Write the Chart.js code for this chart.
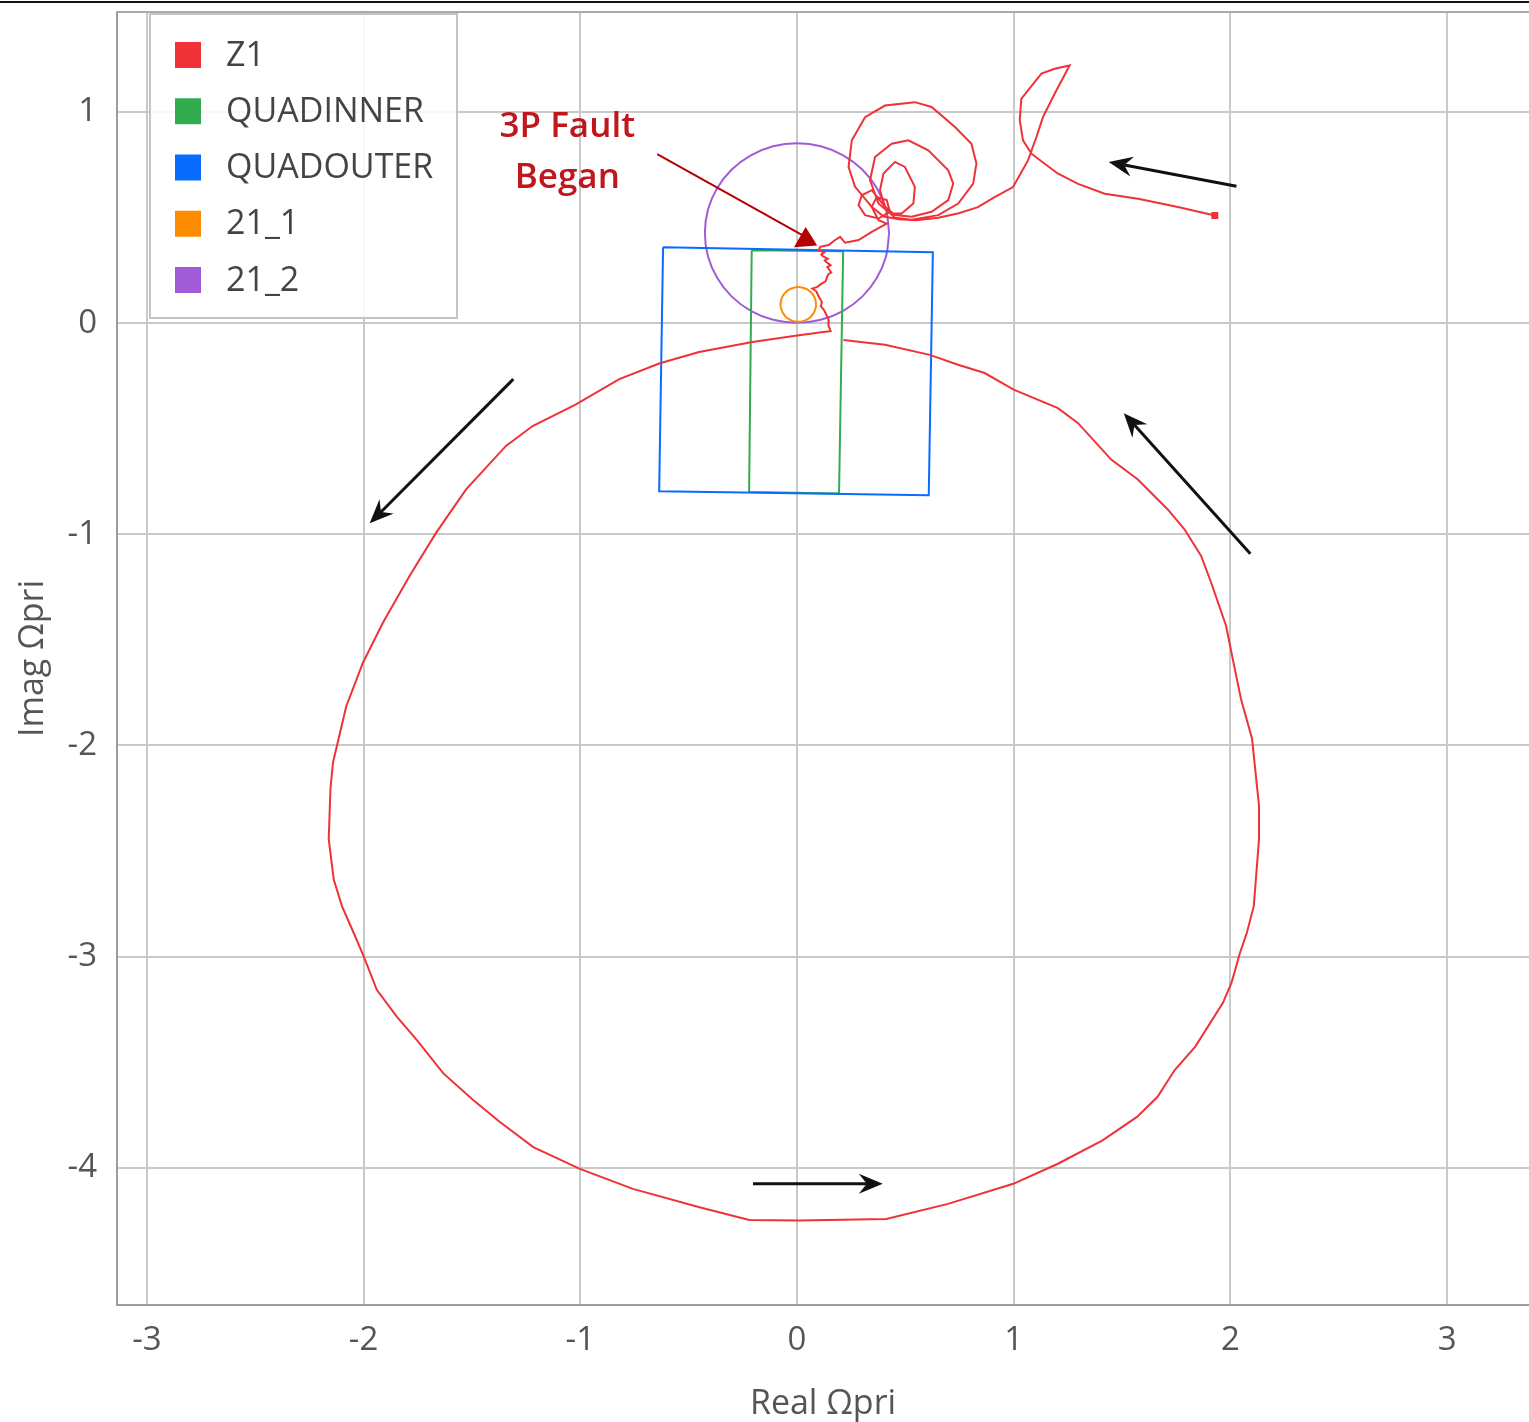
<!DOCTYPE html>
<html>
<head>
<meta charset="utf-8">
<script src="https://cdn.jsdelivr.net/npm/chart.js@4.4.1/dist/chart.umd.min.js"></script>
<style>
  html, body { margin: 0; padding: 0; background: #fff; }
  #wrap { width: 1529px; height: 1422px; }
</style>
</head>
<body>
<div id="wrap"><canvas id="impedance" width="1529" height="1422"></canvas></div>
<script>
'use strict';

// axis ticks and visible range (Real / Imag, ohm primary)
const xTicks = [-3, -2, -1, 0, 1, 2, 3];
const yTicks = [-4, -3, -2, -1, 0, 1];
const xRange = [-3.138, 3.378];
const yRange = [-4.65, 1.474];

const seriesNames = ['Z1', 'QUADINNER', 'QUADOUTER', '21_1', '21_2'];
const seriesColors = ['#ef3237', '#31ad4f', '#0a6cff', '#ff8c00', '#a05cd6'];

// Z1 trajectory [real, imag], in time order
const z1 = [
  [1.928,0.510],[1.758,0.550],[1.574,0.589],[1.420,0.613],[1.297,0.660],[1.205,0.708],[1.143,0.755],
  [1.082,0.803],[1.043,0.866],[1.028,0.961],[1.035,1.063],[1.066,1.103],[1.128,1.182],[1.189,1.205],
  [1.258,1.221],[1.189,1.087],[1.135,0.976],[1.105,0.882],[1.066,0.771],[0.997,0.645],[0.912,0.597],
  [0.835,0.550],[0.747,0.521],[0.652,0.500],[0.550,0.488],[0.470,0.492],
  [0.400,0.505],[0.345,0.551],[0.268,0.646],[0.238,0.740],[0.253,0.866],[0.314,0.976],[0.406,1.031],
  [0.544,1.047],[0.621,1.024],[0.729,0.929],[0.805,0.850],[0.828,0.756],[0.813,0.661],[0.744,0.567],
  [0.652,0.512],[0.529,0.490],[0.452,0.500],
  [0.376,0.567],[0.337,0.677],[0.360,0.787],[0.437,0.850],[0.514,0.866],[0.606,0.819],[0.698,0.724],
  [0.721,0.661],[0.698,0.583],[0.621,0.528],[0.529,0.504],[0.452,0.512],
  [0.406,0.551],[0.383,0.630],[0.399,0.709],[0.452,0.764],[0.498,0.740],[0.544,0.646],[0.537,0.567],
  [0.483,0.520],[0.437,0.520],
  [0.400,0.560],[0.345,0.630],[0.299,0.606],[0.284,0.559],[0.314,0.512],[0.376,0.496],[0.429,0.528],
  [0.414,0.583],[0.368,0.598],[0.345,0.551],[0.376,0.488],[0.414,0.472],
  [0.345,0.433],[0.284,0.394],[0.222,0.381],[0.199,0.409],[0.176,0.394],[0.146,0.370],[0.107,0.362],
  [0.101,0.346],[0.125,0.335],[0.112,0.325],[0.118,0.318],[0.142,0.305],[0.128,0.298],[0.135,0.290],
  [0.155,0.275],[0.140,0.266],[0.146,0.258],[0.158,0.240],[0.145,0.232],[0.140,0.222],[0.132,0.198],
  [0.110,0.185],[0.094,0.172],[0.071,0.164],[0.090,0.150],[0.101,0.125],[0.115,0.100],[0.110,0.080],
  [0.125,0.062],[0.135,0.040],[0.147,0.014],[0.145,-0.010],[0.155,-0.038],[0.120,-0.042],
  [0.071,-0.049],[0.009,-0.057],
  [-0.206,-0.089],[-0.452,-0.136],[-0.636,-0.191],[-0.820,-0.265],[-1.020,-0.384],[-1.220,-0.487],
  [-1.343,-0.581],[-1.527,-0.787],[-1.665,-0.992],[-1.788,-1.197],[-1.911,-1.419],[-2.003,-1.608],
  [-2.080,-1.814],[-2.141,-2.079],[-2.153,-2.206],[-2.161,-2.444],[-2.138,-2.634],[-2.100,-2.761],
  [-2.046,-2.887],[-2.000,-2.998],[-1.939,-3.157],[-1.847,-3.284],[-1.754,-3.395],[-1.632,-3.553],
  [-1.493,-3.680],[-1.371,-3.783],[-1.217,-3.902],[-1.002,-4.005],[-0.757,-4.100],[-0.450,-4.187],
  [-0.220,-4.247],[0.011,-4.250],[0.412,-4.243],[0.697,-4.171],[0.998,-4.076],[1.204,-3.981],
  [1.410,-3.870],[1.569,-3.759],[1.664,-3.664],[1.743,-3.537],[1.838,-3.426],[1.965,-3.220],
  [2.005,-3.125],[2.044,-2.983],[2.076,-2.887],[2.108,-2.761],[2.120,-2.602],[2.132,-2.444],
  [2.132,-2.285],[2.116,-2.127],[2.100,-1.968],[2.049,-1.780],[2.011,-1.591],[1.980,-1.433],
  [1.911,-1.228],[1.865,-1.102],[1.788,-0.976],[1.711,-0.882],[1.573,-0.740],[1.450,-0.646],
  [1.296,-0.472],[1.204,-0.402],[1.000,-0.315],[0.866,-0.236],[0.743,-0.197],[0.613,-0.150],
  [0.406,-0.102],[0.214,-0.079]
];

// zone outlines
const quadInner = [[-0.209,0.346],[0.213,0.341],[0.194,-0.807],[-0.221,-0.800],[-0.209,0.346]];
const quadOuter = [[-0.618,0.360],[0.627,0.336],[0.608,-0.815],[-0.636,-0.796],[-0.618,0.360]];
const zone21_1 = [
  [0.088,0.089],[0.085,0.110],[0.077,0.130],[0.064,0.147],[0.047,0.160],[0.027,0.168],[0.006,0.171],
  [-0.015,0.168],[-0.035,0.160],[-0.052,0.147],[-0.065,0.130],[-0.073,0.110],[-0.076,0.089],
  [-0.073,0.068],[-0.065,0.048],[-0.052,0.031],[-0.035,0.018],[-0.015,0.010],[0.006,0.007],
  [0.027,0.010],[0.047,0.018],[0.064,0.031],[0.077,0.048],[0.085,0.068],[0.088,0.089]
];
const zone21_2 = [
  [0.425,0.427],[0.411,0.537],[0.368,0.640],[0.301,0.728],[0.213,0.795],[0.110,0.838],[0.000,0.852],
  [-0.110,0.838],[-0.213,0.795],[-0.301,0.728],[-0.368,0.640],[-0.411,0.537],[-0.425,0.427],
  [-0.411,0.317],[-0.368,0.214],[-0.301,0.126],[-0.213,0.059],[-0.110,0.016],[0.000,0.002],
  [0.110,0.016],[0.213,0.059],[0.301,0.126],[0.368,0.214],[0.411,0.317],[0.425,0.427]
];

// annotations, in axis units: [fromRe, fromIm, toRe, toIm]
const dirArrows = [
  [2.028, 0.649, 1.438, 0.763],
  [-1.309, -0.265, -1.972, -0.948],
  [-0.203, -4.076, 0.396, -4.076],
  [2.092, -1.092, 1.508, -0.426]
];
const faultLine = [-0.645, 0.801, 0.037, 0.410];
const faultHead = [[0.040, 0.456], [-0.014, 0.360], [0.093, 0.368]];
const faultText = [['3P Fault', -1.060, 0.929], ['Began', -1.060, 0.687]];


let ImpedancePlot = function(){

    var _font = 'Open Sans';

    var _xy = function(pts){
        return pts.map(function(p){ return {x: p[0], y: p[1]}; });
    };

    var _arrow = function(ctx, x1, y1, x2, y2){
        var a = Math.atan2(y2 - y1, x2 - x1);
        var len = 24, half = 10, notch = 16;
        ctx.save();
        ctx.strokeStyle = '#111';
        ctx.fillStyle = '#111';
        ctx.lineWidth = 3;
        ctx.beginPath();
        ctx.moveTo(x1, y1);
        ctx.lineTo(x2 - Math.cos(a) * notch, y2 - Math.sin(a) * notch);
        ctx.stroke();
        ctx.translate(x2, y2);
        ctx.rotate(a);
        ctx.beginPath();
        ctx.moveTo(0, 0);
        ctx.lineTo(-len, -half);
        ctx.lineTo(-notch, 0);
        ctx.lineTo(-len, half);
        ctx.closePath();
        ctx.fill();
        ctx.restore();
    };

    var _overlay = {
        id: 'overlay',
        beforeDraw: function(chart){
            var ctx = chart.ctx;
            ctx.save();
            ctx.fillStyle = '#111';
            ctx.fillRect(0, 1, chart.width, 2);
            ctx.restore();
        },
        afterDatasetsDraw: function(chart){
            var ctx = chart.ctx, area = chart.chartArea;
            var sx = chart.scales.x, sy = chart.scales.y;
            var px = function(v){ return sx.getPixelForValue(v); };
            var py = function(v){ return sy.getPixelForValue(v); };

            ctx.save();
            // frame top edge
            ctx.strokeStyle = '#aaaaaa';
            ctx.lineWidth = 2;
            ctx.beginPath();
            ctx.moveTo(area.left, area.top);
            ctx.lineTo(area.right, area.top);
            ctx.stroke();

            dirArrows.forEach(function(d){
                _arrow(ctx, px(d[0]), py(d[1]), px(d[2]), py(d[3]));
            });

            // fault marker
            ctx.strokeStyle = '#b40000';
            ctx.fillStyle = '#b40000';
            ctx.lineWidth = 2;
            ctx.beginPath();
            ctx.moveTo(px(faultLine[0]), py(faultLine[1]));
            ctx.lineTo(px(faultLine[2]), py(faultLine[3]));
            ctx.stroke();
            ctx.beginPath();
            faultHead.forEach(function(p, i){
                if (i === 0) ctx.moveTo(px(p[0]), py(p[1]));
                else ctx.lineTo(px(p[0]), py(p[1]));
            });
            ctx.closePath();
            ctx.fill();

            ctx.fillStyle = '#c0161c';
            ctx.font = '600 35px "' + _font + '"';
            ctx.textAlign = 'center';
            ctx.textBaseline = 'middle';
            faultText.forEach(function(t){
                ctx.fillText(t[0], px(t[1]), py(t[2]));
            });

            // legend box in the upper left corner of the plot
            var lx = area.left + 33, ly = area.top + 2, lw = 307, lh = 304;
            ctx.fillStyle = 'rgba(255,255,255,0.85)';
            ctx.fillRect(lx, ly, lw, lh);
            ctx.strokeStyle = '#c4c4c4';
            ctx.lineWidth = 2;
            ctx.strokeRect(lx, ly, lw, lh);
            ctx.font = '34px "' + _font + '"';
            ctx.textAlign = 'left';
            chart.data.datasets.forEach(function(ds, i){
                var cy = ly + 41 + i * 56.25;
                ctx.fillStyle = ds.borderColor;
                ctx.fillRect(lx + 25, cy - 13, 26, 26);
                ctx.fillStyle = '#444';
                ctx.fillText(ds.label, lx + 76, cy + 1);
            });
            ctx.restore();
        }
    };

    var _line = function(i, pts, order, tension){
        return {
            label: seriesNames[i],
            data: _xy(pts),
            borderColor: seriesColors[i],
            backgroundColor: seriesColors[i],
            borderWidth: 2,
            showLine: true,
            fill: false,
            tension: tension || 0,
            pointRadius: 0,
            order: order
        };
    };

    var _axis = function(range, ticks, title, size, labelPad, titlePad){
        return {
            type: 'linear',
            min: range[0],
            max: range[1],
            afterBuildTicks: function(s){
                s.ticks = ticks.map(function(v){ return {value: v}; });
            },
            afterFit: function(s){
                if (s.isHorizontal()) s.height = size; else s.width = size;
                // keep the plot edges where the reference has them
                s.paddingTop = 0;
                s.paddingBottom = 0;
                s.paddingLeft = 0;
                s.paddingRight = 0;
            },
            grid: { color: '#c9c9c9', lineWidth: 2, drawTicks: false },
            border: { color: '#9c9c9c', width: 2 },
            ticks: {
                autoSkip: false,
                maxRotation: 0,
                padding: labelPad,
                color: '#555',
                font: { family: _font, size: 33 }
            },
            title: {
                display: true,
                text: title,
                color: '#555',
                font: { family: _font, size: 34, lineHeight: 1.05 },
                padding: titlePad
            }
        };
    };

    var _draw = function(){
        var ctx = document.getElementById('impedance').getContext('2d');
        var z1Set = _line(0, z1, 0);
        z1Set.pointStyle = 'rect';
        z1Set.pointRadius = function(c){ return c.dataIndex === 0 ? 3.5 : 0; };

        var config = {
            type: 'scatter',
            data: {
                datasets: [
                    z1Set,
                    _line(1, quadInner, 2),
                    _line(2, quadOuter, 1),
                    _line(3, zone21_1, 3, 0.4),
                    _line(4, zone21_2, 4, 0.4)
                ]
            },
            options: {
                responsive: false,
                animation: false,
                devicePixelRatio: 1,
                events: [],
                layout: { autoPadding: false, padding: { top: 12, right: 0, bottom: 0, left: 0 } },
                plugins: {
                    legend: { display: false },
                    tooltip: { enabled: false }
                },
                scales: {
                    x: _axis(xRange, xTicks, 'Real \u03A9pri', 117, 16, { top: 0, bottom: 0 }),
                    y: _axis(yRange, yTicks, 'Imag \u03A9pri', 117, 20, { top: 15, bottom: 0 })
                }
            },
            plugins: [_overlay]
        };

        window.impedance_chart = new Chart(ctx, config);
    };

    return {
        init: function(){
            _draw();
        }
    };

}();


document.addEventListener('DOMContentLoaded', function(){
    ImpedancePlot.init();
});
</script>
</body>
</html>
